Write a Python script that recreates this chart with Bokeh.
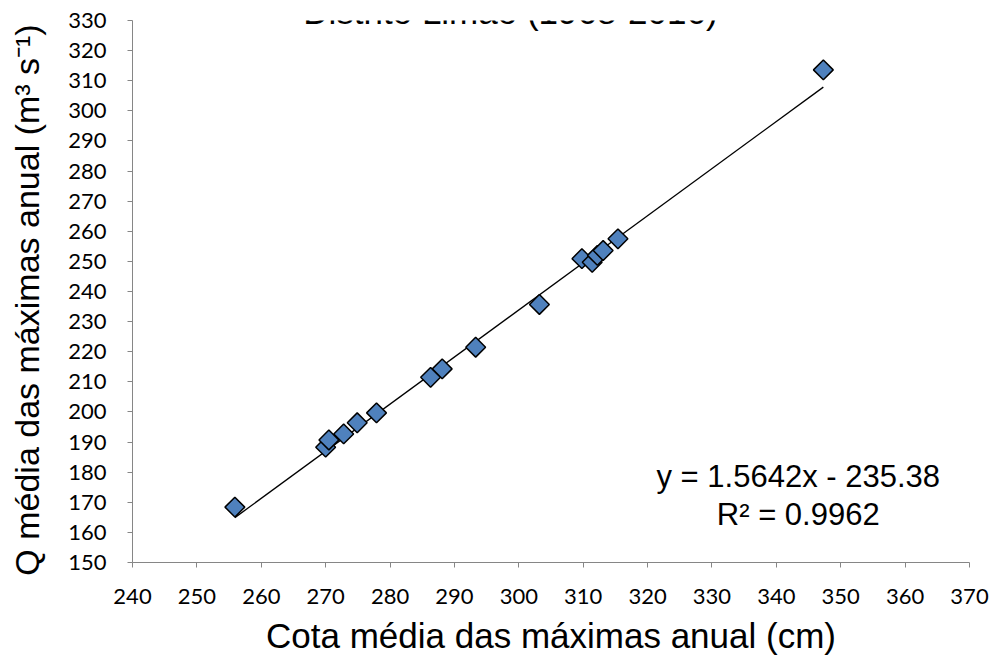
import numpy as np
from bokeh.plotting import figure
from bokeh.models import Range1d, Label, FixedTicker, ColumnDataSource
from bokeh.embed import file_html
from bokeh.resources import INLINE

# ---- data ----
cota = [255.9, 270.0, 270.5, 272.8, 274.9, 277.9, 286.3, 288.1, 293.3,
        303.2, 309.8, 311.4, 312.2, 313.1, 315.4, 347.3]
vazao = [168.4, 188.3, 190.7, 192.7, 196.4, 199.7, 211.5, 214.3, 221.5,
         235.7, 250.9, 249.7, 252.0, 253.6, 257.5, 313.6]
slope = 1.5642
intercept = -235.38
r2 = 0.9962
x_ticks = list(range(240, 371, 10))
y_ticks = list(range(150, 331, 10))
title_text = "Distrito Limão (1968-2016)"
x_title = "Cota média das máximas anual (cm)"
y_title = "Q média das máximas anual (m³ s⁻¹)"

p = figure(width=995, height=664, output_backend="svg", toolbar_location=None,
           x_range=Range1d(240, 370), y_range=Range1d(150, 330),
           min_border_left=132, min_border_right=26, min_border_top=20,
           min_border_bottom=102)
p.outline_line_color = None
p.xgrid.visible = False
p.ygrid.visible = False
p.background_fill_color = "white"
p.border_fill_color = "white"

font = "Liberation Sans"
for ax, ticks in ((p.xaxis[0], x_ticks), (p.yaxis[0], y_ticks)):
    ax.ticker = FixedTicker(ticks=ticks)
    ax.axis_line_color = "#868686"
    ax.axis_line_width = 1
    ax.major_tick_line_color = "#868686"
    ax.major_tick_out = 5
    ax.major_tick_in = 0
    ax.minor_tick_line_color = None
    ax.major_label_text_font = "Lato"
    ax.major_label_text_font_size = "22px"
    ax.major_label_text_color = "black"
    ax.axis_label_text_font = font
    ax.axis_label_text_font_style = "normal"
    ax.axis_label_text_color = "black"

p.xaxis[0].major_label_standoff = 21
p.yaxis[0].major_label_standoff = 21
p.xaxis[0].axis_label = x_title
# en space at the end nudges the rotated title slightly downward, as in the reference
p.yaxis[0].axis_label = y_title + "\u2002"
p.xaxis[0].axis_label_text_font_size = "35px"
p.yaxis[0].axis_label_text_font_size = "34px"
p.xaxis[0].axis_label_standoff = 9
p.yaxis[0].axis_label_standoff = 19

# trend line
xs = [min(cota), max(cota)]
ys = [slope * v + intercept for v in xs]
p.line(xs, ys, line_color="black", line_width=1.3)

src = ColumnDataSource(dict(x=cota, y=vazao))
p.scatter("x", "y", source=src, marker="square", size=14, angle=np.pi / 4,
          fill_color="#4F81BD", line_color="black", line_width=1.5)

p.add_layout(Label(x=298.7, y=333.0, text=title_text, text_font=font,
                   text_font_size="35px", text_align="center",
                   text_baseline="alphabetic", text_color="black"))
p.add_layout(Label(x=343.4, y=178.6, text=f"y = {slope}x - {abs(intercept)}",
                   text_font=font, text_font_size="31px", text_align="center",
                   text_baseline="alphabetic", text_color="black"))
p.add_layout(Label(x=343.4, y=165.9, text=f"R² = {r2}",
                   text_font=font, text_font_size="31px", text_align="center",
                   text_baseline="alphabetic", text_color="black"))

open("out.html", "w").write(file_html(p, INLINE))
